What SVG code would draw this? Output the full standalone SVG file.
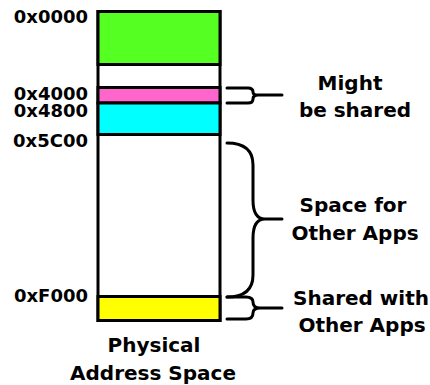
<svg xmlns="http://www.w3.org/2000/svg" width="430" height="385" viewBox="0 0 430 385">
<style>
text{font-family:"Comic Sans MS","DejaVu Sans",sans-serif;font-weight:bold;fill:#000;font-size:20px}
.addr{text-anchor:end;font-size:18px}
.lbl{text-anchor:middle}
.seg{stroke:#000;stroke-width:3}
.brace{fill:none;stroke:#000;stroke-width:3;stroke-linecap:round;stroke-linejoin:round}
</style>
<rect width="430" height="385" fill="#fff"/>
<g id="memory">
<rect class="seg" x="98" y="11.5" width="122" height="309" fill="#fff"/>
<rect class="seg" x="98" y="11.5" width="122" height="53" fill="#55ff22"/>
<rect class="seg" x="98" y="87.5" width="122" height="15.5" fill="#ff66cc"/>
<rect class="seg" x="98" y="103" width="122" height="31.5" fill="#00ffff"/>
<rect class="seg" x="98" y="296.5" width="122" height="24" fill="#ffff00"/>
</g>
<g id="addresses">
<text class="addr" x="88" y="23">0x0000</text>
<text class="addr" x="88" y="100">0x4000</text>
<text class="addr" x="88" y="117">0x4800</text>
<text class="addr" x="88" y="147">0x5C00</text>
<text class="addr" x="88" y="302">0xF000</text>
</g>
<g id="connectors">
<path class="brace" d="M227,88 H248 Q253,88 253,92 Q253,95 258,95 H282 M258,95 Q253,95 253,99 Q253,103 248,103 H227"/>
<path class="brace" d="M227,143 Q253,143 253,165 V200 Q253,219 265,219 H282 M265,219 Q253,219 253,238 V275 Q253,297 227,297"/>
<path class="brace" d="M227,297 H246 Q253,297 253,302 Q253,308 260,308 H282 M260,308 Q253,308 253,313 Q253,319 246,319 H227"/>
</g>
<g id="label-might">
<text class="lbl" x="350" y="90">Might</text>
<text class="lbl" x="355" y="117">be shared</text>
</g>
<g id="label-space">
<text class="lbl" x="353" y="212">Space for</text>
<text class="lbl" x="355" y="240">Other Apps</text>
</g>
<g id="label-shared">
<text class="lbl" x="361" y="305">Shared with</text>
<text class="lbl" x="362" y="332">Other Apps</text>
</g>
<g id="label-physical">
<text class="lbl" x="154" y="352">Physical</text>
<text class="lbl" x="153" y="380">Address Space</text>
</g>
</svg>
